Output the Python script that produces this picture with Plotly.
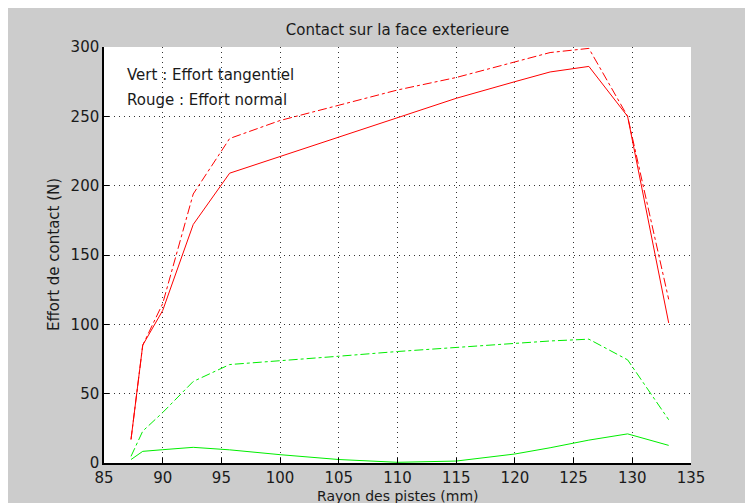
import plotly.graph_objects as go

# rayon des pistes (mm)
rayon = [87.3, 88.3, 90.0, 92.6, 95.7, 100, 105, 110, 115, 120, 123, 126.3, 129.6, 133.1]

# efforts (N)
normal_plein = [17, 85, 110, 172, 209, 221, 235, 249, 263, 275, 282, 286, 250, 101]
normal_mixte = [17, 85, 115, 194, 234, 247, 258, 269, 278, 289, 296, 299, 250, 118]
tangent_plein = [2.5, 8.4, 9.6, 11.3, 9.5, 6, 2.5, 0.5, 1.4, 6.5, 11, 16.5, 21, 12.7]
tangent_mixte = [4.8, 23, 36.4, 58.8, 71, 74, 77, 80.4, 83.2, 86.4, 88, 89.3, 74.4, 31.2]

x_ticks = [85, 90, 95, 100, 105, 110, 115, 120, 125, 130, 135]
y_ticks = [0, 50, 100, 150, 200, 250, 300]

# page body has an 8px margin, so the figure is a bit smaller than the window
W, H = 745, 495
L, R, T, B = 96, 62, 39, 40
pw, ph = W - L - R, H - T - B

fig = go.Figure()

series = [
    (normal_mixte, '#ff0000', 'dashdot'),
    (normal_plein, '#ff0000', 'solid'),
    (tangent_mixte, '#00ee00', 'dashdot'),
    (tangent_plein, '#00ee00', 'solid'),
]
for vals, col, dash in series:
    fig.add_trace(go.Scatter(x=rayon, y=vals, mode='lines',
                             line=dict(color=col, width=1, dash=dash),
                             showlegend=False))

font = dict(family='DejaVu Sans, sans-serif', size=15, color='#1a1a1a')
small = dict(font, size=14)

axis_common = dict(showgrid=True, gridcolor='#333333', gridwidth=1, griddash='1px,4px',
                   ticks='inside', ticklen=5, tickcolor='#000000',
                   showline=True, linecolor='#000000', linewidth=1.5,
                   zeroline=False, tickfont=font, automargin=False)

fig.update_xaxes(range=[85, 135], tickvals=x_ticks, **axis_common)
fig.update_yaxes(range=[0, 300], tickvals=y_ticks, **axis_common)

fig.add_annotation(x=86.8, y=279.5, xref='x', yref='y', text='Vert : Effort tangentiel',
                   showarrow=False, xanchor='left', font=font)
fig.add_annotation(x=86.8, y=262, xref='x', yref='y', text='Rouge : Effort normal',
                   showarrow=False, xanchor='left', font=font)

# axis titles
fig.add_annotation(x=0.5, y=-(488 - (H - B)) / ph, xref='paper', yref='paper',
                   text='Rayon des pistes (mm)', showarrow=False,
                   xanchor='center', yanchor='middle', font=small)
fig.add_annotation(x=-(L - 46) / pw, y=0.5, xref='paper', yref='paper',
                   text='Effort de contact (N)', showarrow=False, textangle=-90,
                   xanchor='center', yanchor='middle', font=font)

fig.update_layout(
    width=W, height=H,
    margin=dict(l=L, r=R, t=T, b=B),
    paper_bgcolor='#cccccc', plot_bgcolor='white',
    title=dict(text='Contact sur la face exterieure', x=(L + pw / 2) / W, xanchor='center',
               y=1 - 22 / H, yanchor='middle', font=font),
    font=font,
)

fig.write_html("out.html")
